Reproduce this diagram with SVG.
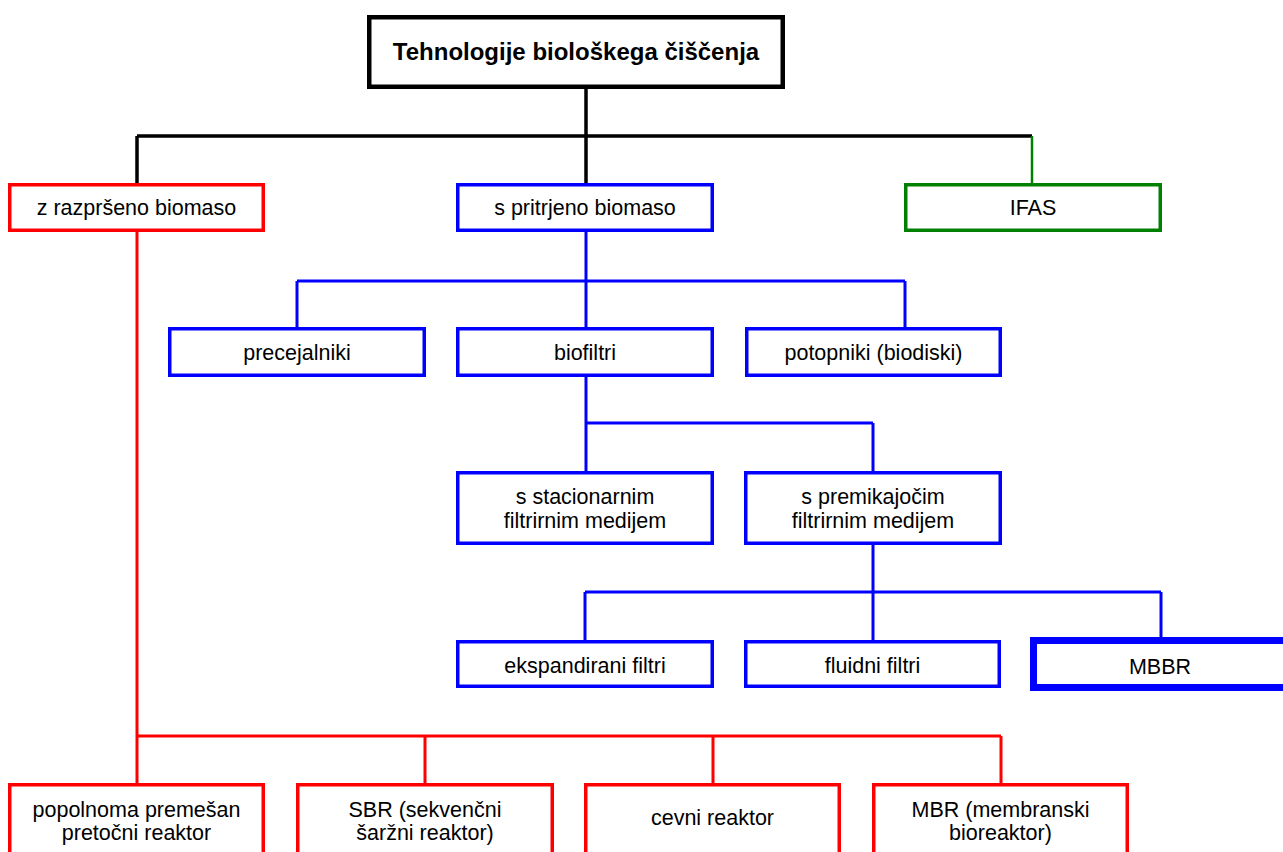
<svg xmlns="http://www.w3.org/2000/svg" width="1283" height="852" viewBox="0 0 1283 852">
<style>
.t{font-family:"Liberation Sans",Arial,sans-serif;font-size:21.5px;fill:#000;text-anchor:middle}
.tb{font-family:"Liberation Sans",Arial,sans-serif;font-size:24px;font-weight:bold;fill:#000;text-anchor:middle}
.bk{fill:#fff;stroke:#000;stroke-width:4.5}
.rd{fill:#fff;stroke:#ff0000;stroke-width:3.5}
.bl{fill:#fff;stroke:#0000ff;stroke-width:3.5}
.gr{fill:#fff;stroke:#008000;stroke-width:3.5}
.bl7{fill:#fff;stroke:#0000ff;stroke-width:7}
.cb{fill:none;stroke:#000;stroke-width:3.5}
.cr{fill:none;stroke:#ff0000;stroke-width:3}
.cl{fill:none;stroke:#0000ff;stroke-width:3}
.cg{fill:none;stroke:#008000;stroke-width:2.5}
</style>
<rect width="1283" height="852" fill="#fff"/>
<g id="connectors">
<path class="cb" d="M586 89V136M137 136H1032M137 136V183M586 136V183"/>
<path class="cg" d="M1032 136V183"/>
<path class="cr" d="M137 232V736M137 736H1001M137 736V783M425 736V783M713 736V783M1001 736V783"/>
<path class="cl" d="M586 232V281M297 281H905M297 281V327M586 281V327M905 281V327"/>
<path class="cl" d="M586 377V423M586 423H873M586 423V471M873 423V471"/>
<path class="cl" d="M873 545V592M585 592H1161M585 592V640M873 592V640M1161 592V637"/>
</g>
<g id="n-root"><rect class="bk" x="369.25" y="17.25" width="413.5" height="69.5"/><text class="tb" x="576" y="60">Tehnologije biološkega čiščenja</text></g>
<g id="n-razprseno"><rect class="rd" x="9.75" y="184.75" width="253.5" height="45.5"/><text class="t" x="136.5" y="215">z razpršeno biomaso</text></g>
<g id="n-pritrjeno"><rect class="bl" x="457.75" y="184.75" width="254.5" height="45.5"/><text class="t" x="585" y="215">s pritrjeno biomaso</text></g>
<g id="n-ifas"><rect class="gr" x="905.75" y="184.75" width="254.5" height="45.5"/><text class="t" x="1033" y="215">IFAS</text></g>
<g id="n-precejalniki"><rect class="bl" x="169.75" y="328.75" width="254.5" height="46.5"/><text class="t" x="297" y="360">precejalniki</text></g>
<g id="n-biofiltri"><rect class="bl" x="457.75" y="328.75" width="254.5" height="46.5"/><text class="t" x="585" y="360">biofiltri</text></g>
<g id="n-potopniki"><rect class="bl" x="746.75" y="328.75" width="253.5" height="46.5"/><text class="t" x="873.5" y="360">potopniki (biodiski)</text></g>
<g id="n-stacionarnim"><rect class="bl" x="457.75" y="472.75" width="254.5" height="70.5"/><text class="t" x="585" y="504">s stacionarnim</text><text class="t" x="585" y="528">filtrirnim medijem</text></g>
<g id="n-premikajocim"><rect class="bl" x="745.75" y="472.75" width="254.5" height="70.5"/><text class="t" x="873" y="504">s premikajočim</text><text class="t" x="873" y="528">filtrirnim medijem</text></g>
<g id="n-ekspandirani"><rect class="bl" x="457.75" y="641.75" width="254.5" height="44.5"/><text class="t" x="585" y="673">ekspandirani filtri</text></g>
<g id="n-fluidni"><rect class="bl" x="745.75" y="641.75" width="253.5" height="44.5"/><text class="t" x="872.5" y="673">fluidni filtri</text></g>
<g id="n-mbbr"><rect class="bl7" x="1033.5" y="640.5" width="270" height="47"/><text class="t" x="1160" y="674">MBBR</text></g>
<g id="n-popolnoma"><rect class="rd" x="9.75" y="784.75" width="253.5" height="90"/><text class="t" x="136.5" y="817">popolnoma premešan</text><text class="t" x="136.5" y="840">pretočni reaktor</text></g>
<g id="n-sbr"><rect class="rd" x="297.75" y="784.75" width="254.5" height="90"/><text class="t" x="425" y="817">SBR (sekvenčni</text><text class="t" x="425" y="840">šaržni reaktor)</text></g>
<g id="n-cevni"><rect class="rd" x="585.75" y="784.75" width="253.5" height="90"/><text class="t" x="712.5" y="825">cevni reaktor</text></g>
<g id="n-mbr"><rect class="rd" x="873.75" y="784.75" width="253.5" height="90"/><text class="t" x="1000.5" y="817">MBR (membranski</text><text class="t" x="1000.5" y="840">bioreaktor)</text></g>
</svg>
